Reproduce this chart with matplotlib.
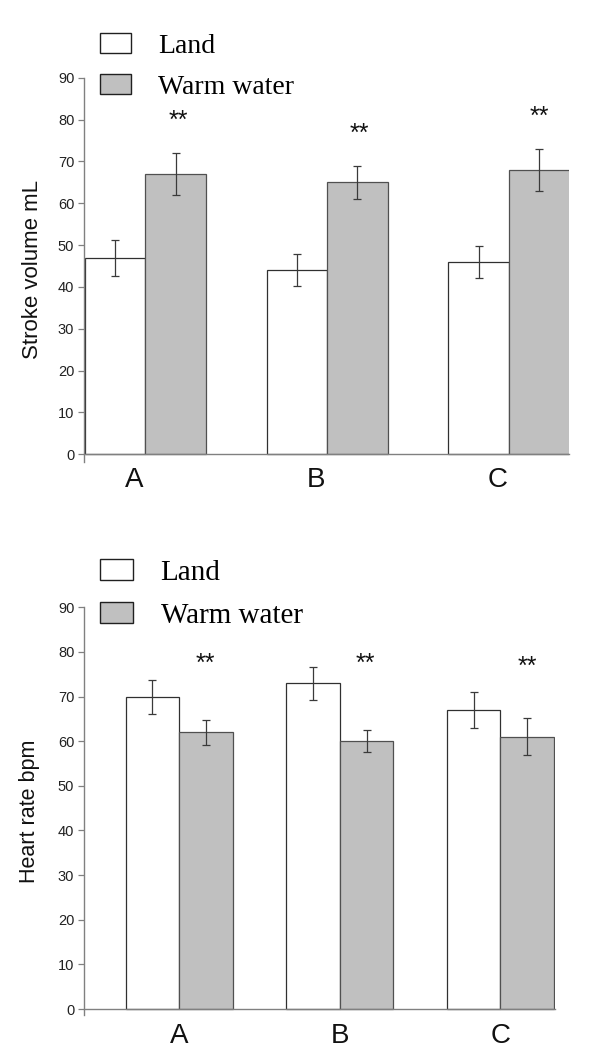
import numpy as np
import matplotlib
matplotlib.use("Agg")
import matplotlib.pyplot as plt
from matplotlib.patches import Patch

plt.rcParams['font.family'] = ['Liberation Sans', 'DejaVu Sans']

# data
groups = ['A', 'B', 'C']
sv_land = [47, 44, 46]
sv_land_err = [4.3, 3.8, 3.8]
sv_warm = [67, 65, 68]
sv_warm_err = [5.0, 4.0, 5.1]
sv_star_x = [0.18, 1.18, 2.165]
sv_star_y = [79.8, 76.6, 80.6]

hr_land = [70, 73, 67]
hr_land_err = [3.8, 3.7, 4.0]
hr_warm = [62, 60, 61]
hr_warm_err = [2.8, 2.4, 4.2]
hr_star_x = [0.16, 1.16, 2.165]
hr_star_y = [77.3, 77.3, 76.6]

GRAY = '#c0c0c0'


def panel(ax, land, land_err, warm, warm_err, sx, sy, ylabel, xlim, ymin,
          tick_shift, lbl_pad, ylab_size, ylab_pad):
    # spines first: moving the spine rebuilds the ticks
    for s in ['top', 'right']:
        ax.spines[s].set_visible(False)
    ax.spines['bottom'].set_position(('data', 0))
    for s in ['left', 'bottom']:
        ax.spines[s].set_color('#808080')
        ax.spines[s].set_linewidth(1.0)

    x = np.arange(len(groups))
    w = 0.333
    ax.bar(x - w / 2, land, w, color='white', edgecolor='#303030', linewidth=0.9, zorder=2)
    ax.bar(x + w / 2, warm, w, color=GRAY, edgecolor='#505050', linewidth=0.9, zorder=2)
    ax.errorbar(x - w / 2, land, yerr=land_err, fmt='none', ecolor='#3a3a3a',
                elinewidth=0.9, capsize=3, capthick=0.9, zorder=3)
    ax.errorbar(x + w / 2, warm, yerr=warm_err, fmt='none', ecolor='#3a3a3a',
                elinewidth=0.9, capsize=3, capthick=0.9, zorder=3)
    for xs, ys in zip(sx, sy):
        ax.text(xs, ys, '**', ha='center', va='center', fontsize=18, color='#111111')

    ax.set_xlim(*xlim)
    ax.set_ylim(ymin, 90)
    ax.set_yticks(range(0, 91, 10))
    ax.set_xticks(x + tick_shift)
    ax.set_xticklabels(groups)
    ax.tick_params(axis='x', length=0, pad=lbl_pad, labelsize=20, labelcolor='#111111')
    ax.tick_params(axis='y', length=4, width=0.9, color='#808080', labelsize=10.5,
                   labelcolor='#222222', pad=3)
    ax.set_ylabel(ylabel, fontsize=ylab_size, color='#111111', labelpad=ylab_pad)


fig = plt.figure(figsize=(6, 10.56), dpi=100)

ax1 = fig.add_axes([0.14, 0.5627, 0.8083, 0.3636])
panel(ax1, sv_land, sv_land_err, sv_warm, sv_warm_err, sv_star_x, sv_star_y,
      'Stroke volume mL', (-0.337, 2.33), -1.8, -0.06, 9, 16, 11)

ax2 = fig.add_axes([0.14, 0.0388, 0.7858, 0.3861])
panel(ax2, hr_land, hr_land_err, hr_warm, hr_warm_err, hr_star_x, hr_star_y,
      'Heart rate bpm', (-0.593, 2.343), -1.35, 0.0, 10, 15.5, 13)

handles = [Patch(facecolor='white', edgecolor='#202020', linewidth=1.0, label='Land'),
           Patch(facecolor=GRAY, edgecolor='#202020', linewidth=1.0, label='Warm water')]

for ypos, fs in [(1 - 33 / 1056, 20), (1 - 559 / 1056, 21)]:
    fig.legend(handles=handles, loc='upper left', bbox_to_anchor=(100 / 600, ypos),
               frameon=False, borderpad=0, borderaxespad=0, handlelength=1.13,
               handleheight=0.74, handletextpad=0.95, labelspacing=0.55,
               prop={'family': 'Liberation Serif', 'size': fs})

fig.savefig('out.png', dpi=100)
